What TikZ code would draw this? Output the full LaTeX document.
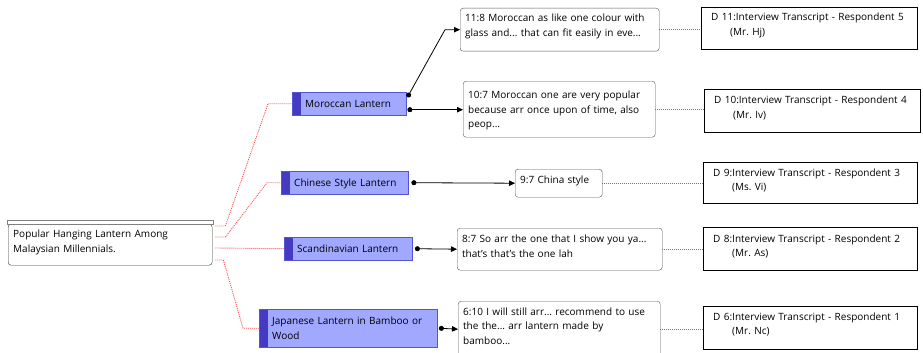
\documentclass[tikz,border=0pt]{standalone}
\usepackage{fontspec}
\setmainfont{Open Sans}
\frenchspacing
\usetikzlibrary{arrows.meta,calc}
\definecolor{catfill}{RGB}{160,168,255}
\definecolor{catbar}{RGB}{68,58,196}
\definecolor{catline}{RGB}{84,84,214}
\definecolor{redlinkc}{RGB}{255,82,82}
\definecolor{quoteline}{RGB}{88,88,88}
\begin{document}
\begin{tikzpicture}[x=1pt,y=-1pt,
    every node/.style={font=\fontsize{10}{14.5}\selectfont, align=left, anchor=north west},
    rootbox/.style={draw=black!80, rounded corners=3pt, fill=white, inner xsep=5pt, inner ysep=4pt, text height=9.5pt},
    catbox/.style={draw=catline, fill=catfill, inner xsep=13pt, inner ysep=0pt, text height=7.3pt, text depth=0pt,
      path picture={\fill[catbar] (path picture bounding box.north west) rectangle ([xshift=9pt]path picture bounding box.south west);}},
    quotebox/.style={draw=quoteline, rounded corners=3pt, fill=white, inner xsep=5pt, inner ysep=4pt, text height=10pt},
    srcbox/.style={draw=black, fill=white, inner xsep=10pt, inner ysep=4pt, text height=10pt},
    redlink/.style={redlinkc, line width=0.9pt, dash pattern=on 1pt off 1pt},
    graylink/.style={black!55, line width=0.7pt, dash pattern=on 1pt off 1pt},
    blacklink/.style={black, line width=0.8pt, {Circle[length=5pt]}-{Triangle[length=6pt,width=5.5pt]}}]
  \useasboundingbox (0,0) rectangle (923,353);
  % main theme
  \node[rootbox, text width=194pt, text depth=23.5pt] (root) at (8,224) {Popular Hanging Lantern Among\\Malaysian Millennials.};
  \draw[gray, fill=white, line width=0.8pt] ([xshift=-1pt]root.north west) rectangle ([xshift=1pt,yshift=4pt]root.north east);
  % lantern types
  \node[catbox, text width=88pt, minimum height=23pt] (moroccan) at (292,92) {\mbox{Moroccan Lantern}};
  \node[catbox, text width=101pt, minimum height=23pt] (chinese) at (281,171) {\mbox{Chinese Style Lantern}};
  \node[catbox, text width=102pt, minimum height=23pt] (scand) at (284,237) {\mbox{Scandinavian Lantern}};
  \node[catbox, text width=152pt, text depth=14.5pt, minimum height=38pt] (japanese) at (259,309) {\mbox{Japanese Lantern in Bamboo or}\\Wood};
  % quotations
  \node[quotebox, text width=189pt, text height=9.5pt, text depth=25.5pt] (q118) at (460,8) {11:8 Moroccan as like one colour with\\glass and... that can fit easily in eve...};
  \node[quotebox, text width=182pt, text height=13.5pt, text depth=34.5pt] (q107) at (463,81) {10:7 Moroccan one are very popular\\because arr once upon of time, also\\peop...};
  \node[quotebox, text width=77pt, text height=10.5pt, text depth=9.5pt] (q97) at (515,169) {9:7 China style};
  \node[quotebox, text width=195pt, text height=10.5pt, text depth=23.5pt] (q87) at (457,228) {8:7 So arr the one that I show you ya...\\that’s that’s the one lah};
  \node[quotebox, text width=192pt, text depth=38pt] (q610) at (458,301) {6:10 I will still arr... recommend to use\\the the... arr lantern made by\\bamboo...};
  % documents
  \node[srcbox, text width=196pt, text height=9.5pt, text depth=24.5pt] (d11) at (701,7) {D 11:Interview Transcript - Respondent 5\\\hspace*{19pt}(Mr. Hj)};
  \node[srcbox, text width=196pt, text height=10.5pt, text depth=24.5pt] (d10) at (704,89) {D 10:Interview Transcript - Respondent 4\\\hspace*{19pt}(Mr. Iv)};
  \node[srcbox, text width=194pt, text depth=23pt] (d9) at (703,162) {D 9:Interview Transcript - Respondent 3\\\hspace*{19pt}(Ms. Vi)};
  \node[srcbox, text width=194pt, text height=11pt, text depth=24pt] (d8) at (703,227) {D 8:Interview Transcript - Respondent 2\\\hspace*{19pt}(Mr. As)};
  \node[srcbox, text width=194pt, text depth=25pt] (d6) at (703,306) {D 6:Interview Transcript - Respondent 1\\\hspace*{19pt}(Mr. Nc)};
  % theme to types
  \draw[redlink] ($(root.north east)+(3,2)$) -- ++(10,0) -- ($(moroccan.west)+(-24,0)$) -- (moroccan.west);
  \draw[redlink] ($(root.north east)+(3,13)$) -- ++(10,0) -- ($(chinese.west)+(-14,0)$) -- (chinese.west);
  \draw[redlink] ($(root.north east)+(3,24)$) -- (scand.west);
  \draw[redlink] ($(root.north east)+(3,36)$) -- ++(8,0) -- ($(japanese.west)+(-16,0)$) -- (japanese.west);
  % types to quotations
  \coordinate (mtail) at ($(moroccan.east)+(1,6)$);
  \draw[blacklink] ($(moroccan.east)+(1,-6.5)$) -- ($(q118.west)+(-15,0)$) -- (q118.west);
  \draw[blacklink] (mtail) -- (mtail -| q107.west);
  \draw[blacklink] ([xshift=3pt]chinese.east) -- (q97.west);
  \draw[blacklink] ([xshift=2.5pt]scand.east) -- (q87.west);
  \draw[blacklink] ([xshift=1.5pt]japanese.east) -- (q610.west);
  % quotations to documents
  \draw[graylink] (q118.east) -- (q118.east -| d11.west);
  \draw[graylink] (q107.east) -- (q107.east -| d10.west);
  \draw[graylink] (q97.east) -- (q97.east -| d9.west);
  \draw[graylink] (q87.east) -- (q87.east -| d8.west);
  \draw[graylink] (q610.east) -- (q610.east -| d6.west);
\end{tikzpicture}
\end{document}
